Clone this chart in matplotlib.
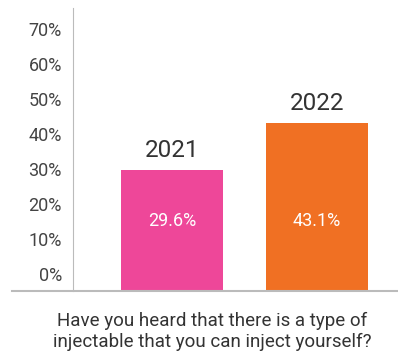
import matplotlib
matplotlib.use("Agg")
import matplotlib.pyplot as plt

plt.rcParams['font.family'] = ['Roboto', 'DejaVu Sans']

years = ["2021", "2022"]
values = [29.6, 43.1]
labels = ["29.6%", "43.1%"]
colors = ["#EE4799", "#F07023"]
ticks = [0, 10, 20, 30, 40, 50, 60, 70]
question = "Have you heard that there is a type of\ninjectable that you can inject yourself?"

fig = plt.figure(figsize=(3.98, 3.58), dpi=100)
ax = fig.add_axes([73 / 398, 67.3 / 358, 325 / 398, 282.7 / 358])

ymin, ymax = -4.8, 76
x = range(len(years))
# bars start at the axis floor, like the original graphic
bars = ax.bar(x, [v - ymin for v in values], bottom=ymin, width=0.703, color=colors)

for i, b in enumerate(bars):
    top = b.get_y() + b.get_height()
    ax.annotate(years[i], (b.get_x() + b.get_width() / 2, top), xytext=(0, 14),
                textcoords="offset points", ha="center", va="center",
                fontsize=17.5, color="#333333")
    ax.text(b.get_x() + b.get_width() / 2, 15, labels[i], ha="center", va="center",
            fontsize=13, color="white")

ax.set_xlim(-0.683, 1.559)
ax.set_ylim(ymin, ymax)
ax.set_yticks(ticks)
ax.set_yticklabels([f"{t}%" for t in ticks])
ax.set_xticks([])
ax.tick_params(axis="y", length=0, pad=8, labelsize=13, labelcolor="#444444")

for s in ["top", "right", "bottom"]:
    ax.spines[s].set_visible(False)
ax.spines["left"].set_color("#BBBBBB")
ax.axhline(ymin, xmin=-0.188, xmax=1, color="#BBBBBB", lw=1.5, clip_on=False)

fig.text(212 / 398, 27 / 358, question, ha="center", va="center",
         fontsize=13.5, color="#333333", linespacing=1.2)

fig.savefig("out.png", dpi=100)
